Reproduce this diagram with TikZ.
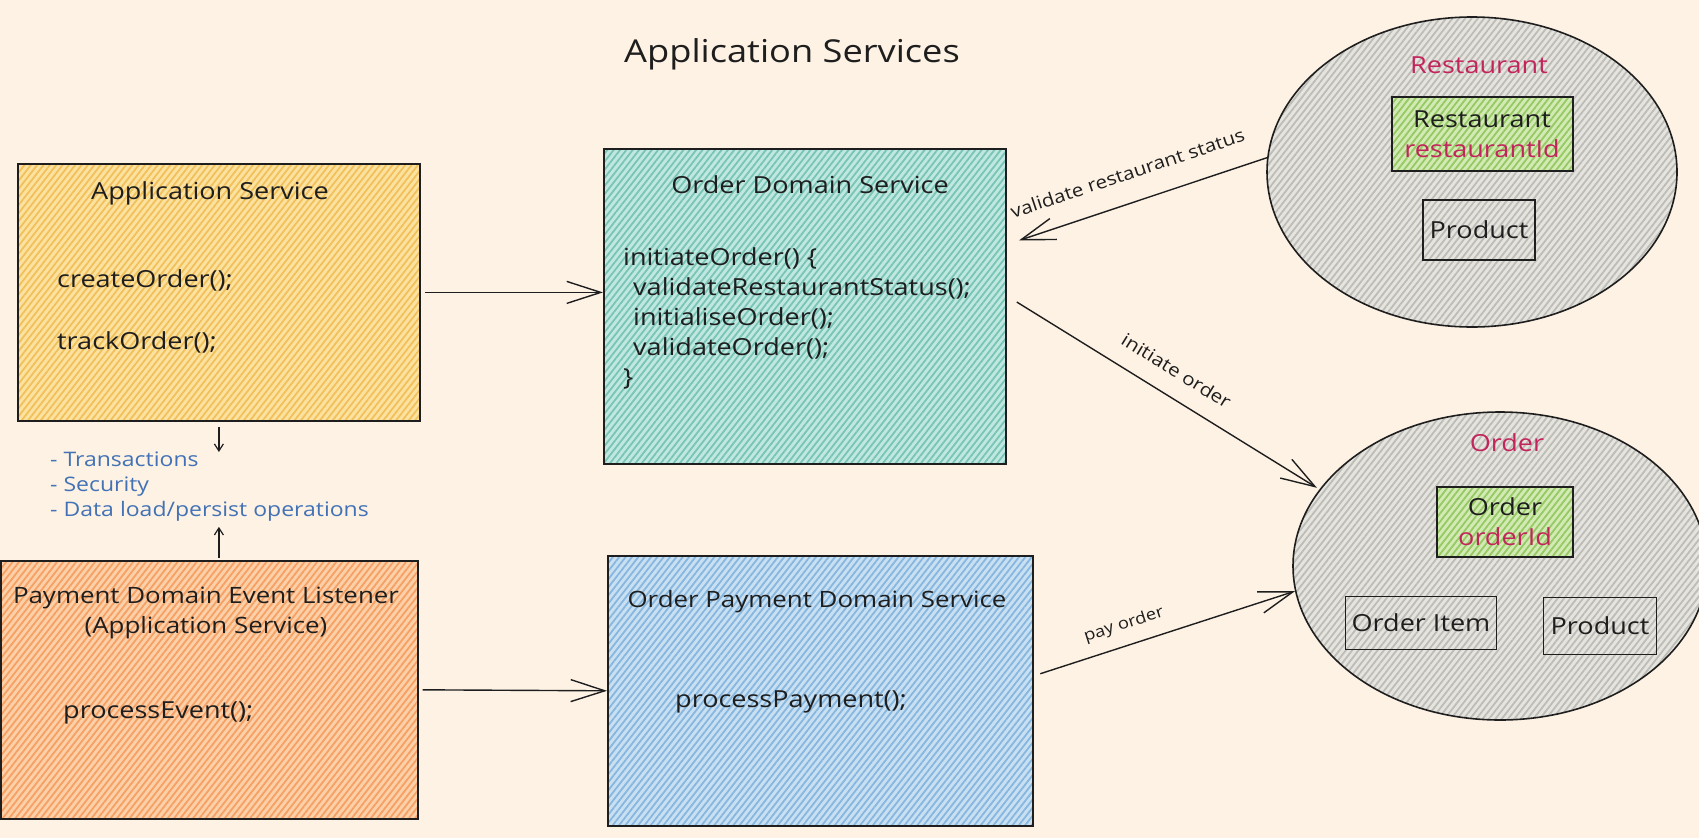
\documentclass[tikz,border=0pt]{standalone}
\usepackage{fontspec}
\setmainfont{Open Sans}[FakeStretch=1.15]
\usetikzlibrary{positioning, arrows.meta, shapes.geometric, patterns.meta}
\definecolor{bgcream}{RGB}{253,242,228}
\definecolor{inkdark}{RGB}{30,30,30}
\definecolor{appbase}{RGB}{252,226,160}
\definecolor{appline}{RGB}{242,192,90}
\definecolor{evtbase}{RGB}{252,208,168}
\definecolor{evtline}{RGB}{246,160,100}
\definecolor{dombase}{RGB}{192,232,224}
\definecolor{domline}{RGB}{120,196,182}
\definecolor{paybase}{RGB}{200,224,242}
\definecolor{payline}{RGB}{135,182,222}
\definecolor{aggbase}{RGB}{230,228,223}
\definecolor{aggline}{RGB}{190,188,182}
\definecolor{entbase}{RGB}{210,234,180}
\definecolor{entline}{RGB}{150,200,100}
\definecolor{aggred}{RGB}{194,37,92}
\definecolor{noteblue}{RGB}{66,114,181}

\begin{document}
\begin{tikzpicture}[x=1pt, y=-1pt,
    hatched/.style 2 args={preaction={fill=#1},
        pattern={Lines[angle=52,distance=5pt,line width=1.8pt]}, pattern color=#2},
    box/.style={draw=inkdark, line width=1.6pt, inner sep=0pt, anchor=north west},
    inbox/.style={draw=inkdark, line width=1.4pt, inner sep=0pt, align=center,
        font=\fontsize{23.5}{30}\selectfont, text=inkdark},
    txt/.style={font=\fontsize{23.5}{30}\selectfont, text=inkdark, inner sep=0pt},
    note/.style={font=\fontsize{20}{25}\selectfont, text=noteblue, inner sep=0pt},
    edgelbl/.style={font=\fontsize{18}{22}\selectfont, text=inkdark, inner sep=0pt, sloped},
    conn/.style={draw=inkdark, line width=1.4pt, -{Straight Barb[length=34pt,width=22pt]}},
    smallarrow/.style={draw=inkdark, line width=1.2pt, -{Straight Barb[length=7pt,width=9pt]}}]
    % Background
    \useasboundingbox (0,0) rectangle (1699,838);
    \fill[bgcream] (0,0) rectangle (1699,838);
    \node[txt, font=\fontsize{31.5}{36}\selectfont] (title) at (792,54) {Application Services};

    % Application service
    \node[box, hatched={appbase}{appline}, minimum width=402, minimum height=257] (appsvc) at (17,163) {};
    \node[txt] (apptitle) at (210,193) {Application Service};
    \node[txt, anchor=west] (create) at (57,280) {createOrder();};
    \node[txt, anchor=west] (track) at (57,342) {trackOrder();};

    % Cross-cutting concerns
    \node[note, align=left, anchor=north west] (concerns) at (50,452)
        {- Transactions\\- Security\\- Data load/persist operations};

    % Event listener
    \node[box, hatched={evtbase}{evtline}, minimum width=417, minimum height=258] (evtlst) at (0,560) {};
    \node[txt, font=\fontsize{22.5}{30}\selectfont, align=center] (evttitle) at (206,613)
        {Payment Domain Event Listener\\(Application Service)};
    \node[txt, anchor=west] (procevt) at (63,713) {processEvent();};

    \draw[smallarrow, shorten <=5pt] (appsvc.south) -- (appsvc.south |- concerns.north);
    \draw[smallarrow, shorten <=2pt, shorten >=5pt] (appsvc.south |- evtlst.north) -- (appsvc.south |- concerns.south);

    % Domain services
    \node[box, hatched={dombase}{domline}, minimum width=402, minimum height=315] (domsvc) at (603,148) {};
    \node[txt] (domtitle) at (810,185) {Order Domain Service};
    \node[txt, align=left, anchor=north west] (domcode) at (623,247)
        {initiateOrder() \{\\\hspace*{10pt}validateRestaurantStatus();\\\hspace*{10pt}initialiseOrder();\\\hspace*{10pt}validateOrder();\\\}};

    \node[box, hatched={paybase}{payline}, minimum width=425, minimum height=270] (paysvc) at (607,555) {};
    \node[txt, font=\fontsize{22.5}{30}\selectfont] (paytitle) at (817,602) {Order Payment Domain Service};
    \node[txt, anchor=west] (procpay) at (675,702) {processPayment();};

    % Restaurant aggregate
    \node[ellipse, draw=inkdark, line width=1.6pt, inner sep=0pt, hatched={aggbase}{aggline},
        minimum width=410, minimum height=310] (restagg) at (1472,172) {};
    \node[txt, text=aggred] (resttitle) at (1479,65) {Restaurant};
    \node[inbox, hatched={entbase}{entline}, line width=2pt, minimum width=181, minimum height=74] (restroot)
        at (1482,134) {Restaurant\\\textcolor{aggred}{restaurantId}};
    \node[inbox, minimum width=112, minimum height=60] (restprod) at (1479,230) {Product};

    % Order aggregate
    \node[ellipse, draw=inkdark, line width=1.6pt, inner sep=0pt, hatched={aggbase}{aggline},
        minimum width=414, minimum height=308] (orderagg) at (1500,566) {};
    \node[txt, text=aggred] (ordtitle) at (1507,443) {Order};
    \node[inbox, hatched={entbase}{entline}, line width=2pt, minimum width=136, minimum height=70] (orderroot)
        at (1505,522) {Order\\\textcolor{aggred}{orderId}};
    \node[inbox, minimum width=151, minimum height=53] (orderitem) at (1421,623) {Order Item};
    \node[inbox, minimum width=113, minimum height=57] (orderprod) at (1600,626) {Product};

    % Connections
    \draw[conn, shorten <=4pt] (appsvc.east) -- (appsvc.east -| domsvc.west);
    \draw[conn, shorten <=4pt] (evtlst.east) -- (paysvc.west);
    \draw[conn, shorten >=13pt] (restagg.176) -- (domsvc.17)
        node[edgelbl, midway, above=22pt] {validate restaurant status};
    \draw[conn, shorten <=12pt, shorten >=3pt] (domsvc.3) -- (orderagg.157)
        node[edgelbl, midway, above=18pt] {initiate order};
    \draw[conn, shorten <=7pt] (paysvc.4) -- (orderagg.187)
        node[edgelbl, font=\fontsize{16}{20}\selectfont, pos=0.37, above=12pt] {pay order};
\end{tikzpicture}
\end{document}
